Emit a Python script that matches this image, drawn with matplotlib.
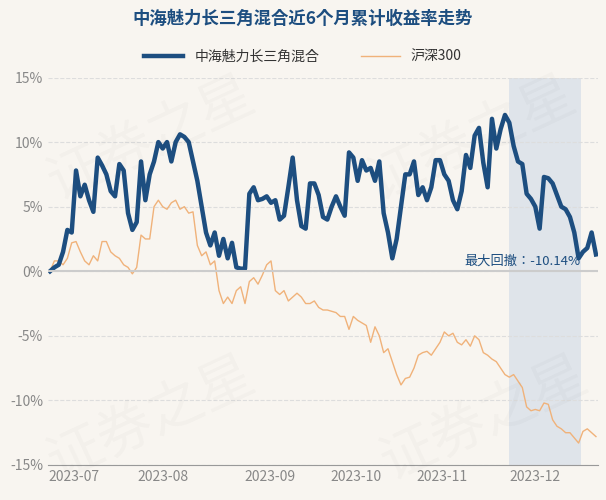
import matplotlib
matplotlib.use("Agg")
import matplotlib.pyplot as plt
from matplotlib import font_manager as fm

names = {f.name for f in fm.fontManager.ttflist}
cjk = next((n for n in ['Noto Sans CJK SC', 'Noto Sans CJK JP', 'Noto Sans CJK TC', 'Noto Sans CJK KR']
            if n in names), None)
if cjk is None:
    cands = sorted(n for n in names if 'CJK' in n and 'Sans' in n)
    cjk = cands[0] if cands else 'DejaVu Sans'
plt.rcParams['font.family'] = [cjk, 'DejaVu Sans']
plt.rcParams['font.sans-serif'] = [cjk, 'DejaVu Sans']

fund = [0,.3,.5,1.5,3.2,3,7.8,5.8,6.7,5.5,
        4.6,8.8,8.2,7.5,6.2,5.8,8.3,7.8,4.5,3.2,
        3.8,8.5,5.5,7.5,8.5,10,9.5,10,8.5,10,
        10.6,10.4,10,8.5,7,5,3,2,3,1.2,
        2.5,1,2.2,.3,.2,.2,6,6.5,5.5,5.6,
        5.8,5.3,5.5,4,4.3,6.5,8.8,5.5,3.5,3.3,
        6.8,6.8,5.9,4.2,4,5,5.8,5,4.3,9.2,
        8.8,7,8.6,7.8,8,7,8.5,4.5,3,1,
        2.5,5,7.5,7.5,8.5,5.9,6.5,5.5,6.5,8.6,
        8.6,7.5,7,5.5,4.8,6.2,9,8,10.5,11.1,
        8.4,6.5,11.8,9.5,11,12.1,11.5,9.7,8.5,8.3,
        6,5.6,5,3.3,7.3,7.2,6.8,5.9,5,4.8,
        4.2,3,1,1.5,1.8,3,1.3]
csi = [0,.8,.8,.5,1,2.2,2.3,1.5,.8,.5,
       1.2,.8,2.3,2.3,1.5,1.2,1,.5,.3,-.2,
       .3,2.8,2.5,2.5,5,5.5,5,4.8,5.3,5.5,
       4.8,5,4.5,4.6,2,1.2,1.5,.5,.8,-1.5,
       -2.5,-2,-2.5,-1.5,-1.2,-2.5,-.8,-.5,-1,-.3,
       .5,.8,-1.5,-1.8,-1.5,-2.3,-2,-1.7,-2,-2.5,
       -2.5,-2.3,-2.8,-3,-3,-3.1,-3.2,-3.5,-3.5,-4.5,
       -3.5,-3.8,-4,-4.2,-5.5,-4.3,-5,-6.3,-6,-7,
       -8,-8.8,-8.3,-8.2,-7.5,-6.5,-6.3,-6.2,-6.5,-6,
       -5.5,-4.7,-5,-4.8,-5.5,-5.7,-5.3,-5.8,-5,-5.3,
       -6.3,-6.5,-6.8,-7,-7.5,-8,-8.2,-8,-8.5,-9,
       -10.5,-10.8,-10.7,-10.8,-10.2,-10.3,-11.5,-12,-12.2,-12.5,
       -12.5,-12.9,-13.3,-12.4,-12.2,-12.5,-12.8]
month_labels = ['2023-07','2023-08','2023-09','2023-10','2023-11','2023-12']
month_pos = [5.6, 26, 50.7, 70.7, 90.5, 112]
dd_start, dd_end = 106, 122.5
dd_text = '最大回撤：-10.14%'

bg = '#f8f5f0'
fig = plt.figure(figsize=(6.06, 5.0), dpi=100, facecolor=bg)
ax = fig.add_axes([0.079, 0.07, 0.908, 0.775], facecolor=bg)

for x, y in [(0.25, 0.72), (0.78, 0.72), (0.25, 0.16), (0.8, 0.16)]:
    fig.text(x, y, '证券之星', fontsize=40, color='#000000', alpha=0.025, rotation=25,
             ha='center', va='center')

ax.axvspan(dd_start, dd_end, color='#dfe4ea', lw=0)
ax.plot(range(len(csi)), csi, color='#f0b27a', lw=1.0, label='沪深300')
ax.plot(range(len(fund)), fund, color='#1d4e80', lw=3.2, label='中海魅力长三角混合')
ax.axhline(0, color='#cccccc', lw=1.5)
ax.text(dd_end, 0.3, dd_text, ha='right', va='bottom', fontsize=9.5, color='#1d4e80')

ax.set_xlim(-0.5, len(fund) - 0.5)
ax.set_ylim(-15, 15)
ax.set_yticks(range(-15, 16, 5))
ax.set_yticklabels([f'{v}%' for v in range(-15, 16, 5)])
ax.set_xticks(month_pos)
ax.set_xticklabels(month_labels)
ax.tick_params(colors='#888888', labelsize=10, length=0)
ax.grid(axis='y', color='#dddddd', ls='--', lw=0.8)
for s in ax.spines.values():
    s.set_visible(False)
ax.spines['bottom'].set_visible(True)
ax.spines['bottom'].set_color('#999999')

h, l = ax.get_legend_handles_labels()
fig.legend(h[::-1], l[::-1], loc='upper center', bbox_to_anchor=(0.5, 0.925), ncol=2,
           frameon=False, fontsize=10, handlelength=2.8, columnspacing=3, labelcolor='#333333')
fig.text(0.5, 0.962, '中海魅力长三角混合近6个月累计收益率走势', ha='center', va='center',
         fontsize=12.5, fontweight='bold', color='#1d4e80')
fig.savefig('out.png', dpi=100, facecolor=bg)
